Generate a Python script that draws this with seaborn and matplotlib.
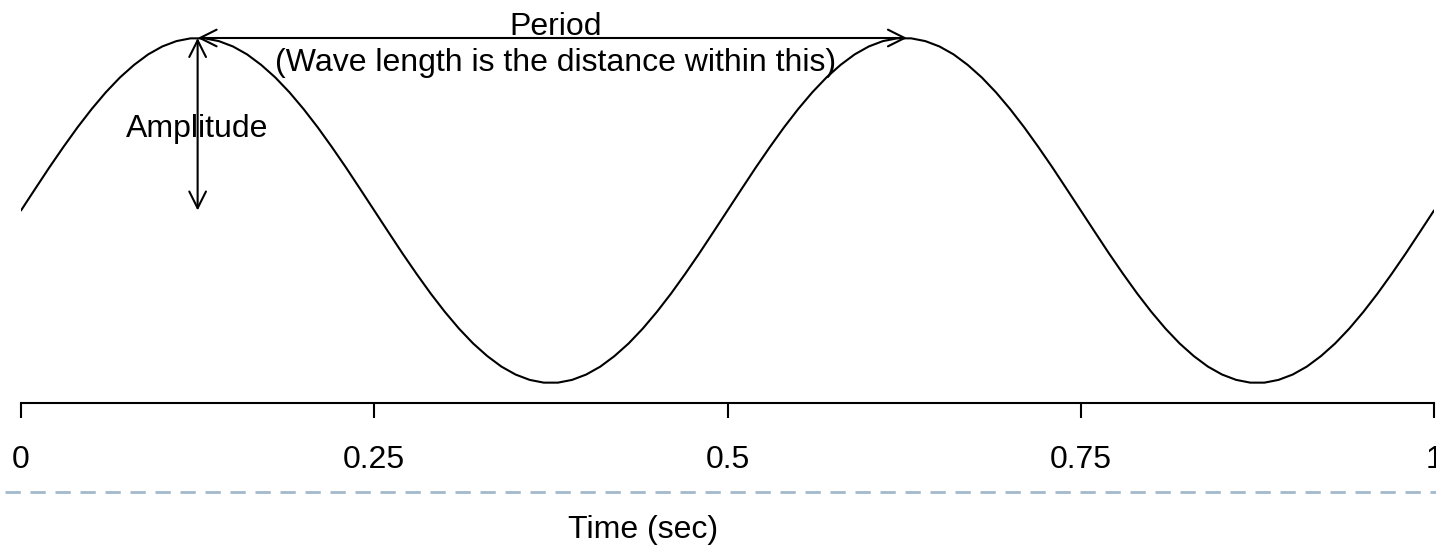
import matplotlib
matplotlib.use("Agg")
import matplotlib.pyplot as plt
import seaborn as sns
import pandas as pd
from matplotlib.lines import Line2D

# ---- data ----
time_sec = [i / 100 for i in range(101)]
half_up = [0.0, 0.125, 0.249, 0.368, 0.482, 0.588, 0.685, 0.771, 0.844, 0.905,
           0.951, 0.982, 0.998, 0.998, 0.982, 0.951, 0.905, 0.844, 0.771, 0.685,
           0.588, 0.482, 0.368, 0.249, 0.125]
half_down = [0.0, -0.125, -0.249, -0.368, -0.482, -0.588, -0.685, -0.771, -0.844, -0.905,
             -0.951, -0.982, -0.998, -0.998, -0.982, -0.951, -0.905, -0.844, -0.771, -0.685,
             -0.588, -0.482, -0.368, -0.249, -0.125]
amplitude = half_up + half_down + half_up + half_down + [0.0]
tick_values = [0, 0.25, 0.5, 0.75, 1]
tick_labels = ["0", "0.25", "0.5", "0.75", "1"]
peak1_t, peak2_t, peak_y, mid_y = 0.125, 0.627, 1.0, 0.0

df = pd.DataFrame({"Time": time_sec, "Amplitude": amplitude})

sns.set_style("white")
plt.rcParams["font.family"] = ["Liberation Sans", "DejaVu Sans"]
plt.rcParams["text.color"] = "black"
plt.rcParams["xtick.color"] = "black"

W, H = 1436, 547
fig = plt.figure(figsize=(W / 100, H / 100), dpi=100)
ax = fig.add_axes([21 / W, (H - 403) / H, (1434 - 21) / W, 403 / H])

sns.lineplot(data=df, x="Time", y="Amplitude", ax=ax, color="black", linewidth=1.5)

ax.set_xlim(0, 1)
ax.set_ylim(-1.116, 1.2203)
for s in ["left", "right", "top"]:
    ax.spines[s].set_visible(False)
ax.spines["bottom"].set_color("black")
ax.spines["bottom"].set_linewidth(1.5)
ax.set_yticks([])
ax.set_xticks(tick_values)
ax.set_xticklabels(tick_labels)
ax.tick_params(axis="x", direction="out", length=10.5, width=1.5, color="black",
               labelcolor="black", labelsize=23, pad=20, bottom=True)
ax.set_xlabel("")
ax.set_ylabel("")

arrow_kw = dict(arrowstyle="<->,head_length=0.6,head_width=0.3", color="black",
                lw=1.5, shrinkA=0, shrinkB=0, mutation_scale=20)
ax.annotate("", xy=(peak2_t, peak_y), xytext=(peak1_t, peak_y), arrowprops=arrow_kw)
ax.annotate("", xy=(peak1_t, mid_y), xytext=(peak1_t, peak_y), arrowprops=arrow_kw)

ax.text(0.3785, 1.065, "Period", ha="center", va="center", fontsize=23)
ax.text(0.3785, 0.856, "(Wave length is the distance within this)",
        ha="center", va="center", fontsize=23)
ax.text(peak1_t, 0.475, "Amplitude", ha="center", va="center", fontsize=23)

# dashed separator and axis title
fig.add_artist(Line2D([5 / W, 1], [(H - 492) / H] * 2, color="#a3b9cc",
                      lw=2, linestyle=(0, (5.5, 3.5))))
fig.text(643 / W, (H - 530) / H, "Time (sec)", ha="center", va="center", fontsize=23)

fig.savefig("out.png", dpi=100)
